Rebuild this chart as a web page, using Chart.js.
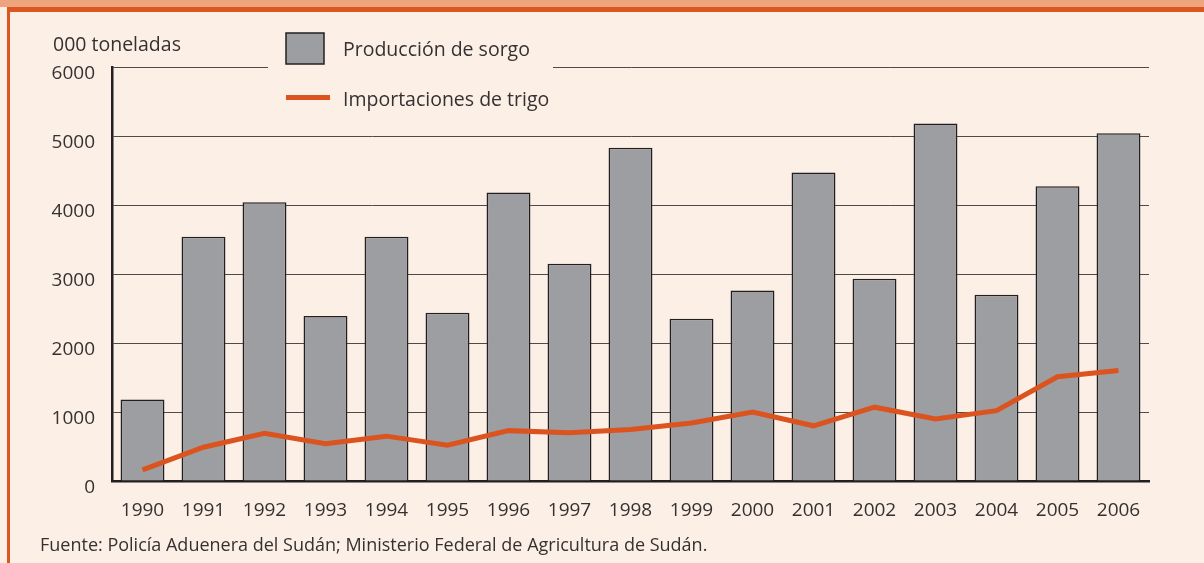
<!DOCTYPE html>
<html>
<head>
<meta charset="utf-8">
<script src="https://cdn.jsdelivr.net/npm/chart.js@4.4.1/dist/chart.umd.min.js"></script>
<style>
  html, body { margin: 0; padding: 0; }
  body { width: 1204px; height: 563px; background: #fcefe6; position: relative; overflow: hidden; font-family: "Open Sans", sans-serif; color: #363131; }
  #bandLight { position: absolute; left: 0; top: 0; width: 1204px; height: 7px; background: #eea47d; }
  #bandDark { position: absolute; left: 7px; top: 7px; width: 1197px; height: 5px; background: #dc5622; }
  #leftLine { position: absolute; left: 7px; top: 7px; width: 3px; height: 556px; background: #dc5622; }
  #unit { position: absolute; left: 53px; top: 31px; font-size: 19.5px; line-height: 26px; white-space: nowrap; }
  #source { position: absolute; left: 40px; top: 532px; font-size: 18px; line-height: 24px; white-space: nowrap; }
  canvas { position: absolute; left: 0; top: 0; }
</style>
</head>
<body>
<div id="bandLight"></div>
<div id="bandDark"></div>
<div id="leftLine"></div>
<canvas id="c" width="1204" height="563"></canvas>
<div id="unit">000 toneladas</div>
<div id="source">Fuente: Policía Aduenera del Sudán; Ministerio Federal de Agricultura de Sudán.</div>
<script>
const years = ['1990','1991','1992','1993','1994','1995','1996','1997','1998','1999','2000','2001','2002','2003','2004','2005','2006'];
const sorghumProduction = [1180, 3540, 4040, 2390, 3540, 2440, 4180, 3150, 4830, 2350, 2760, 4470, 2930, 5180, 2700, 4270, 5040];
const wheatImports = [160, 490, 690, 540, 650, 520, 730, 700, 745, 840, 1000, 800, 1070, 900, 1020, 1510, 1600];
const seriesNames = ['Producción de sorgo', 'Importaciones de trigo'];
const yMin = 0, yMax = 6000, yStep = 1000;

const BAR_FILL = '#9d9ea1';
const BAR_EDGE = '#231f20';
const LINE_COLOR = '#db541f';
const BG = '#fcefe6';
const TEXT = '#363131';

const legendPlugin = {
  id: 'customLegend',
  afterDraw(chart) {
    const ctx = chart.ctx;
    ctx.save();
    ctx.fillStyle = BG;
    ctx.fillRect(268, 18, 285, 100);
    ctx.fillStyle = chart.data.datasets[1].backgroundColor;
    ctx.fillRect(286, 33, 38, 31);
    ctx.strokeStyle = BAR_EDGE;
    ctx.lineWidth = 1.5;
    ctx.strokeRect(286, 33, 38, 31);
    ctx.strokeStyle = chart.data.datasets[0].borderColor;
    ctx.lineWidth = 5;
    ctx.beginPath();
    ctx.moveTo(286, 97.5);
    ctx.lineTo(330, 97.5);
    ctx.stroke();
    ctx.fillStyle = TEXT;
    ctx.font = '19.5px "Open Sans"';
    ctx.textBaseline = 'middle';
    ctx.fillText(chart.data.datasets[1].label, 343, 50);
    ctx.fillText(chart.data.datasets[0].label, 343, 100);
    ctx.restore();
  }
};

new Chart(document.getElementById('c'), {
  type: 'bar',
  data: {
    labels: years,
    datasets: [
      {
        type: 'line',
        label: seriesNames[1],
        data: wheatImports,
        borderColor: LINE_COLOR,
        backgroundColor: LINE_COLOR,
        borderWidth: 5,
        pointRadius: 0,
        tension: 0,
        order: 0
      },
      {
        type: 'bar',
        label: seriesNames[0],
        data: sorghumProduction,
        backgroundColor: BAR_FILL,
        borderColor: BAR_EDGE,
        borderWidth: 1.5,
        barPercentage: 0.72,
        categoryPercentage: 1,
        order: 1
      }
    ]
  },
  options: {
    responsive: false,
    animation: false,
    devicePixelRatio: 1,
    layout: { padding: { left: 0, right: 55, top: 67, bottom: 0 } },
    plugins: { legend: { display: false }, tooltip: { enabled: false } },
    scales: {
      x: {
        grid: { display: false, drawTicks: false },
        border: { display: true, color: '#231f20', width: 2.5 },
        ticks: { color: TEXT, font: { family: 'Open Sans', size: 19 }, padding: 18, maxRotation: 0 },
        afterFit(s) { s.height = 82; }
      },
      y: {
        min: yMin, max: yMax,
        grid: { color: '#4f4a4a', lineWidth: 1, drawTicks: false },
        border: { display: true, color: '#231f20', width: 2.5 },
        ticks: {
          stepSize: yStep, color: TEXT, font: { family: 'Open Sans', size: 19 }, padding: 17, labelOffset: 7,
          callback: (v) => String(v)
        },
        afterFit(s) { s.width = 112; }
      }
    }
  },
  plugins: [legendPlugin]
});
</script>
</body>
</html>
